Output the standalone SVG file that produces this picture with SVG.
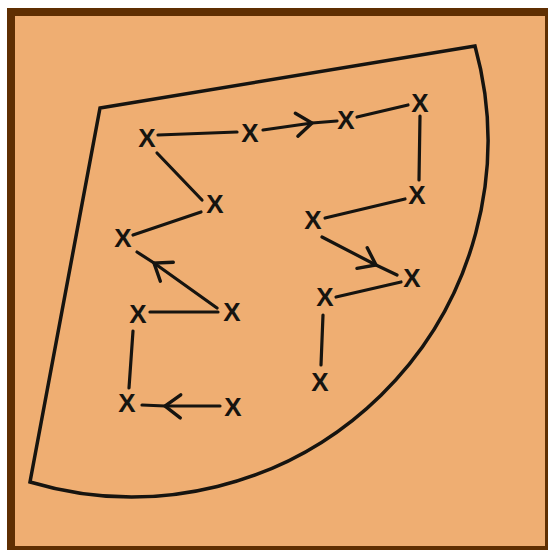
<svg xmlns="http://www.w3.org/2000/svg" width="548" height="550" viewBox="0 0 548 550">
<style>
.x{font-family:"Liberation Sans",Arial,sans-serif;font-weight:bold;font-size:26px;fill:#161410;text-anchor:middle}
.ln{stroke:#161410;stroke-width:3.2;fill:none;stroke-linecap:round;stroke-linejoin:round}
.outline{stroke:#161410;stroke-width:3.5;fill:none;stroke-linejoin:miter}
</style>
<defs>
<marker id="chev" markerUnits="userSpaceOnUse" viewBox="-24 -16 28 32" markerWidth="28" markerHeight="32" refX="0" refY="0" orient="auto" overflow="visible">
<path d="M-15.5,-11.5 L0,0 L-15.5,11.5" fill="none" stroke="#161410" stroke-width="3.4" stroke-linecap="round" stroke-linejoin="miter"/>
</marker>
</defs>
<rect x="0" y="0" width="548" height="550" fill="#ffffff"/>
<rect x="7" y="8" width="541" height="542" fill="#5F2F02"/>
<rect x="15" y="16" width="530" height="530" fill="#EFAE72"/>
<path class="outline" d="M100,108 L475,46 A356,356 0 0 1 30,482 Z"/>
<g id="connectors">
<path class="ln" d="M158,135 L237,132"/>
<path class="ln" d="M263,130 L312,123 L337,121" marker-mid="url(#chev)"/>
<path class="ln" d="M357,117 L408,105"/>
<path class="ln" d="M420,116 L419,180"/>
<path class="ln" d="M405,199 L325,218"/>
<path class="ln" d="M157,153 L202,200"/>
<path class="ln" d="M201,212 L133,235"/>
<path class="ln" d="M217,308 L154,263 L137,252" marker-mid="url(#chev)"/>
<path class="ln" d="M218,312 L150,312"/>
<path class="ln" d="M133,331 L129,388"/>
<path class="ln" d="M220,406 L165,406 L142,405" marker-mid="url(#chev)"/>
<path class="ln" d="M322,237 L376,265 L397,275" marker-mid="url(#chev)"/>
<path class="ln" d="M401,282 L336,297"/>
<path class="ln" d="M323,315 L321,365"/>
</g>
<g id="n1"><text class="x" x="147" y="146.5">X</text></g>
<g id="n2"><text class="x" x="250" y="141.5">X</text></g>
<g id="n3"><text class="x" x="346" y="128.5">X</text></g>
<g id="n4"><text class="x" x="420" y="111.5">X</text></g>
<g id="n5"><text class="x" x="417" y="203.5">X</text></g>
<g id="n6"><text class="x" x="313" y="228.5">X</text></g>
<g id="n7"><text class="x" x="215" y="212.5">X</text></g>
<g id="n8"><text class="x" x="123" y="246.5">X</text></g>
<g id="n9"><text class="x" x="412" y="286.5">X</text></g>
<g id="n10"><text class="x" x="325" y="305.5">X</text></g>
<g id="n11"><text class="x" x="138" y="322.5">X</text></g>
<g id="n12"><text class="x" x="232" y="320.5">X</text></g>
<g id="n13"><text class="x" x="320" y="390.5">X</text></g>
<g id="n14"><text class="x" x="127" y="411.5">X</text></g>
<g id="n15"><text class="x" x="233" y="415.5">X</text></g>
</svg>
